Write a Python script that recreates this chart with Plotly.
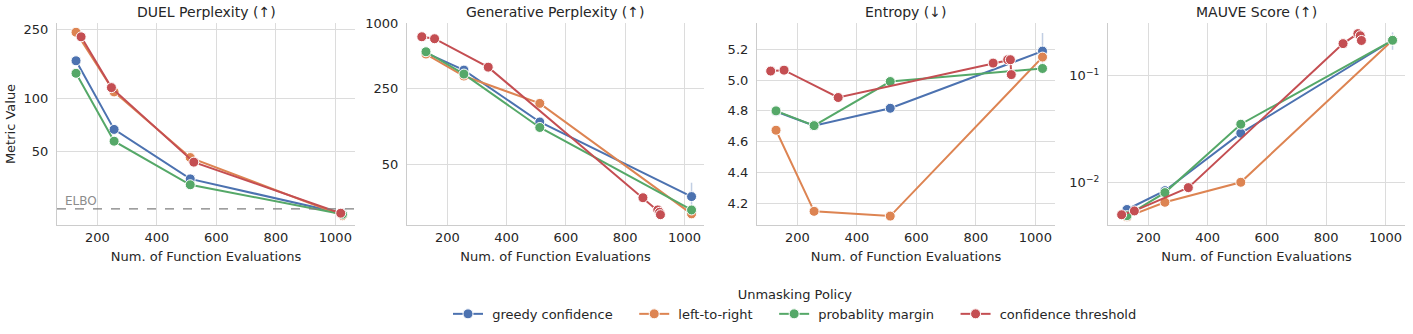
import math
import plotly.graph_objects as go
from plotly.subplots import make_subplots

# ---------------- data ----------------
policies = ["greedy confidence", "left-to-right", "probablity margin", "confidence threshold"]
colors = ["#4C72B0", "#DD8452", "#55A868", "#C44E52"]

titles = ["DUEL Perplexity (↑)", "Generative Perplexity (↑)", "Entropy (↓)", "MAUVE Score (↑)"]

nfe_std = [128, 256, 512, 1024]

# DUEL perplexity
duel_x = {
    "greedy confidence": nfe_std,
    "left-to-right": nfe_std,
    "probablity margin": nfe_std,
    "confidence threshold": [145, 247, 524, 1018],
}
duel_y = {
    "greedy confidence": [165, 67, 35, 22.2],
    "left-to-right": [240, 109.6, 46.3, 21.6],
    "probablity margin": [140, 57.4, 32.4, 22.0],
    "confidence threshold": [226, 116, 43.6, 22.3],
}
elbo_value = 23.6

# Generative perplexity
gen_x = {
    "greedy confidence": nfe_std,
    "left-to-right": nfe_std,
    "probablity margin": nfe_std,
    "confidence threshold": [114, 157, 338, 860, 910, 916, 919],
}
gen_y = {
    "greedy confidence": [535, 370, 122.5, 25.0],
    "left-to-right": [521, 326, 182, 17.3],
    "probablity margin": [547, 340, 109, 18.8],
    "confidence threshold": [753, 722, 394, 24.4, 18.8, 17.9, 17.0],
}
gen_err_hi = {"greedy confidence": [0, 0, 0, 33.6]}
gen_err_lo = {"greedy confidence": [0, 0, 0, 20.0]}

# Entropy
ent_x = {
    "greedy confidence": nfe_std,
    "left-to-right": nfe_std,
    "probablity margin": nfe_std,
    "confidence threshold": [110, 155, 337, 858, 907, 916, 919],
}
ent_y = {
    "greedy confidence": [4.796, 4.704, 4.817, 5.189],
    "left-to-right": [4.674, 4.146, 4.115, 5.150],
    "probablity margin": [4.800, 4.704, 4.991, 5.076],
    "confidence threshold": [5.059, 5.065, 4.887, 5.111, 5.133, 5.133, 5.036],
}
ent_err_hi = {"greedy confidence": [0, 0, 0, 5.307]}
ent_err_lo = {"greedy confidence": [0, 0, 0, 5.090]}

# MAUVE
mau_x = {
    "greedy confidence": nfe_std,
    "left-to-right": nfe_std,
    "probablity margin": nfe_std,
    "confidence threshold": [110, 153, 335, 857, 907, 915, 919],
}
mau_y = {
    "greedy confidence": [0.00560, 0.0084, 0.029, 0.215],
    "left-to-right": [0.00478, 0.00654, 0.01007, 0.215],
    "probablity margin": [0.00490, 0.00806, 0.0352, 0.215],
    "confidence threshold": [0.00500, 0.00543, 0.00897, 0.200, 0.248, 0.237, 0.214],
}
mau_err_hi = {"greedy confidence": [0, 0, 0, 0.255]}
mau_err_lo = {"greedy confidence": [0, 0, 0, 0.175]}

panels = [
    (duel_x, duel_y, None, None),
    (gen_x, gen_y, gen_err_hi, gen_err_lo),
    (ent_x, ent_y, ent_err_hi, ent_err_lo),
    (mau_x, mau_y, mau_err_hi, mau_err_lo),
]

# ---------------- figure ----------------
W, H = 1413, 334
FONT = "DejaVu Sans"
TXT = "#262626"
GRID = "#dcdcdc"
NB = "\u00a0"

fig = make_subplots(rows=1, cols=4)

def rgba(hexc, a):
    h = hexc.lstrip("#")
    return "rgba(%d,%d,%d,%.2f)" % (int(h[0:2], 16), int(h[2:4], 16), int(h[4:6], 16), a)

for ci, (px, py, ehi, elo) in enumerate(panels):
    for k, (pol, col) in enumerate(zip(policies, colors)):
        err = None
        if ehi and pol in ehi:
            ys = py[pol]
            plus = [max(h - y, 0) if h else 0 for h, y in zip(ehi[pol], ys)]
            minus = [max(y - l, 0) if l else 0 for l, y in zip(elo[pol], ys)]
            err = dict(type="data", symmetric=False, array=plus, arrayminus=minus,
                       color=rgba(col, 0.35), thickness=1.5, width=0)
        label = NB + pol + (NB * 4 if k < len(policies) - 1 else "")
        fig.add_trace(
            go.Scatter(
                x=px[pol], y=py[pol], mode="lines+markers", name=label,
                legendgroup=pol, showlegend=(ci == 0),
                line=dict(color=col, width=2),
                marker=dict(color=col, size=10, line=dict(color="white", width=1)),
                error_y=err,
            ),
            row=1, col=ci + 1,
        )

# domains (pixel based)
xdoms = [(57, 355), (407, 704), (757, 1055), (1108, 1405)]
ytop, ybot = 23, 225
ydom = [1 - ybot / H, 1 - ytop / H]

yranges = [
    (True, [math.log10(19.1), math.log10(271)], [50, 100, 250], ["50", "100", "250"]),
    (True, [1.135, 3.004], [50, 250, 1000], ["50", "250", "1000"]),
    (False, [4.057, 5.372], [4.2, 4.4, 4.6, 4.8, 5.0, 5.2], ["4.2", "4.4", "4.6", "4.8", "5.0", "5.2"]),
    (True, [-2.397, -0.506], [0.01, 0.1], ["10<sup>−2</sup>", "10<sup>−1</sup>"]),
]

for i in range(4):
    xa = "xaxis" if i == 0 else f"xaxis{i+1}"
    ya = "yaxis" if i == 0 else f"yaxis{i+1}"
    islog, rng, tv, tt = yranges[i]
    fig.layout[xa].update(
        domain=[xdoms[i][0] / W, xdoms[i][1] / W], range=[64, 1066],
        tickvals=[200, 400, 600, 800, 1000], ticktext=["200", "400", "600", "800", "1000"],
        showgrid=True, gridcolor=GRID, gridwidth=1, zeroline=False,
        showline=True, linecolor="#cccccc", linewidth=1.2, ticks="",
        tickfont=dict(family=FONT, size=13, color=TXT),
        title=dict(text="Num. of Function Evaluations", font=dict(family=FONT, size=13, color=TXT), standoff=8),
        automargin=False,
    )
    fig.layout[ya].update(
        domain=ydom, type="log" if islog else "linear", range=rng,
        tickvals=tv, ticktext=tt,
        showgrid=True, gridcolor=GRID, gridwidth=1, zeroline=False,
        showline=True, linecolor="#cccccc", linewidth=1.2, ticks="",
        tickfont=dict(family=FONT, size=13, color=TXT),
        ticklabelstandoff=5,
        automargin=False,
    )
    fig.add_annotation(
        text=titles[i], xref="paper", yref="paper",
        x=(xdoms[i][0] + xdoms[i][1]) / 2 / W, y=1 - 12 / H,
        xanchor="center", yanchor="middle", showarrow=False,
        font=dict(family=FONT, size=14, color=TXT),
    )

fig.layout.yaxis.title = dict(text="Metric Value", font=dict(family=FONT, size=13, color=TXT), standoff=4)

# ELBO reference line
fig.add_shape(type="line", xref="x domain", yref="y", x0=0, x1=1,
              y0=elbo_value, y1=elbo_value,
              line=dict(color="#7f7f7f", width=1.2, dash="dash"))
fig.add_annotation(text="ELBO", xref="x domain", yref="y", x=0.02, y=math.log10(elbo_value),
                   xanchor="left", yanchor="bottom", showarrow=False, yshift=-1,
                   font=dict(family=FONT, size=12, color="#8c8c8c"))

fig.update_layout(
    width=W, height=H,
    margin=dict(l=0, r=0, t=0, b=0),
    paper_bgcolor="white", plot_bgcolor="white",
    font=dict(family=FONT, size=13, color=TXT),
    legend=dict(
        orientation="h", x=795 / W, xanchor="center", y=1 - 282 / H, yanchor="top",
        title=dict(text="Unmasking Policy", side="top center", font=dict(family=FONT, size=13, color=TXT)),
        font=dict(family=FONT, size=13, color=TXT),
        itemwidth=30, bgcolor="rgba(0,0,0,0)",
    ),
)

fig.write_html("out.html")
